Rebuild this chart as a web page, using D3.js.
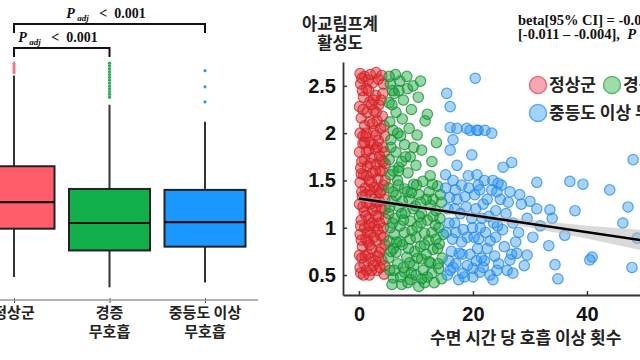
<!DOCTYPE html>
<html><head><meta charset="utf-8">
<script src="https://cdn.jsdelivr.net/npm/d3@7"></script>
<style>body{margin:0;background:#fff}svg{display:block}text{white-space:pre}</style>
</head><body><svg id="c" width="640" height="360"></svg>
<script>
// ---------- data ----------
const groups = ["정상군", "경증 무호흡", "중등도 이상 무호흡"];
const groupLabelLines = [["정상군"], ["경증", "무호흡"], ["중등도 이상", "무호흡"]];
const boxQ1 = [0.99, 0.76, 0.80];
const boxMedian = [1.27, 1.05, 1.06];
const boxQ3 = [1.65, 1.41, 1.40];
const whiskerLow = [0.48, 0.37, 0.42];
const whiskerHigh = [2.61, 2.30, 2.12];
const outliersNormal = [2.64, 2.66, 2.68, 2.70, 2.72, 2.74];
const outliersMild = [2.38, 2.41, 2.44, 2.47, 2.50, 2.53, 2.56, 2.59, 2.62, 2.65, 2.68, 2.71, 2.74];
const outliersModerate = [2.33, 2.49, 2.66];
const pAdjLabel = "<  0.001";

const yTicks = [0.5, 1, 1.5, 2, 2.5];
const yTickLabels = ["0.5", "1", "1.5", "2", "2.5"];
const xTicks = [0, 20, 40];
const xTickLabels = ["0", "20", "40"];

const normalPts = [
[0.3,0.52],[1.8,0.5],[3.2,0.55],[4.4,0.51],[0.9,0.62],[2.5,0.6],[4.0,0.66],[0.1,0.71],[1.5,0.72],[3.6,0.74],
[0.6,0.8],[2.2,0.78],[4.6,0.82],[1.2,0.88],[3.0,0.86],[0.2,0.93],[2.0,0.95],[3.8,0.92],[1.0,1.0],[4.3,1.0],[2.8,1.02],
[0.4,1.08],[1.7,1.1],[3.4,1.12],[4.7,1.09],[0.9,1.17],[2.4,1.18],[4.0,1.2],[0.1,1.25],[1.4,1.26],[3.1,1.27],[4.5,1.3],
[0.6,1.33],[2.1,1.35],[3.7,1.37],[1.1,1.42],[2.7,1.43],[4.3,1.45],[0.2,1.48],[1.8,1.5],[3.3,1.52],[0.8,1.56],[2.4,1.58],[4.1,1.6],
[0.3,1.63],[1.5,1.65],[3.0,1.67],[4.6,1.68],[1.0,1.72],[2.2,1.74],[3.6,1.76],[0.1,1.8],[1.7,1.82],[2.9,1.83],[4.2,1.85],[0.7,1.89],
[2.0,1.9],[3.4,1.92],[1.2,1.96],[4.5,1.97],[0.2,2.0],[2.6,2.02],[3.8,2.05],[1.0,2.08],[1.9,2.12],[3.2,2.13],[0.4,2.16],[4.1,2.18],
[1.4,2.22],[2.6,2.24],[0.1,2.28],[3.5,2.3],[1.9,2.33],[0.8,2.38],[2.9,2.4],[4.2,2.42],[1.3,2.47],[0.3,2.52],[2.4,2.53],[3.4,2.57],
[1.0,2.6],[0.2,2.63],[2.0,2.62],[3.0,2.64],[4.0,2.61],[1.6,2.56],
[1.3,0.55],[2.9,0.65],[0.5,0.68],[3.9,0.78],[1.6,0.85],[0.3,1.02],[2.3,1.05],[3.6,1.05],[1.2,1.13],[2.9,1.22],[0.5,1.38],
[3.2,1.4],[4.6,1.5],[1.3,1.55],[2.9,1.6],[0.5,1.7],[3.9,1.72],[2.5,1.88],[1.3,2.0],[3.0,1.98],[2.2,2.3],[3.9,2.35],[1.5,0.95],
[4.6,1.2],[0.6,2.45],[4.5,0.6],[0.2,0.58],[2.6,1.3],[1.9,1.4],[4.5,1.8],
[0.8,0.5],[2.2,0.55],[3.7,0.58],[1.1,0.7],[2.0,0.67],[3.3,0.7],[0.4,0.87],[2.6,0.9],[4.3,0.9],[1.8,1.02],[3.3,0.98],
[0.7,1.22],[2.0,1.25],[3.6,1.28],[1.2,1.35],[4.0,1.4],[2.2,1.48],[0.4,1.57],[3.7,1.6],[2.0,1.68],[4.2,1.7],[1.3,1.8],
[3.2,1.85],[0.7,1.97],[2.4,2.1],[4.4,2.08],[0.7,2.25],[3.0,2.22],[1.7,2.45],[4.3,2.52],[2.6,2.35],[0.5,2.58],[1.9,0.82],
[3.0,1.13],[1.0,1.9]
];
const mildPts = [
[7.5,0.4],[10.5,0.38],[13.2,0.42],[6.0,0.47],[9.0,0.45],[12.0,0.48],[14.5,0.46],
[5.4,0.55],[8.0,0.53],[11.3,0.55],[14.0,0.57],[6.8,0.62],[9.6,0.6],[12.6,0.63],[5.2,0.68],[8.4,0.69],[11.0,0.67],[14.6,0.68],
[6.5,0.74],[9.8,0.75],[13.0,0.77],[7.6,0.82],[10.8,0.8],[14.1,0.83],[5.3,0.86],[9.0,0.88],[12.2,0.87],
[6.2,0.93],[8.0,0.95],[11.5,0.94],[14.8,0.93],[5.5,1.0],[7.2,1.02],[10.2,1.01],[13.4,1.03],[9.0,1.07],[12.0,1.08],[6.3,1.1],[14.2,1.1],
[5.2,1.15],[8.1,1.16],[11.0,1.15],[13.5,1.18],[7.0,1.22],[9.9,1.23],[12.6,1.24],[5.8,1.28],[8.8,1.3],[14.5,1.27],
[6.5,1.34],[10.5,1.35],[12.3,1.38],[5.2,1.42],[8.0,1.41],[9.6,1.46],[13.8,1.44],[6.8,1.5],[11.2,1.49],
[5.5,1.56],[8.6,1.58],[12.5,1.55],[7.0,1.64],[10.0,1.66],[5.3,1.72],[9.0,1.75],[6.5,1.8],[11.0,1.82],[8.0,1.88],[5.6,1.93],[7.3,1.97],[10.2,1.98],
[6.0,2.03],[8.8,2.05],[5.4,2.12],[7.6,2.15],[11.6,2.13],[6.5,2.22],[9.2,2.25],[5.3,2.32],[7.8,2.35],[10.4,2.38],[6.2,2.42],[8.5,2.47],
[5.5,2.52],[7.2,2.55],[9.5,2.5],[6.4,2.62],[8.4,2.6],[10.8,2.55],
[5.8,2.3],[6.8,2.0],[5.6,1.85],[7.5,1.7],[6.0,1.6],[6.9,1.45],[5.9,2.45],[12.0,2.2],[13.6,1.9],[12.8,1.7],[11.5,0.42],[7.8,0.58],
[10.0,0.9],[13.0,1.3],[11.8,0.72],[9.5,1.2],[7.2,0.85],[14.0,1.0],[10.6,1.12],[8.5,1.38],[6.0,0.78],[12.8,0.95],[9.2,0.52],
[13.9,0.62],[5.4,1.22],[11.8,1.3],[10.1,1.45],[7.8,1.08],[5.8,0.4],[8.6,0.42],
[6.2,0.55],[10.0,0.5],[12.8,0.52],[5.6,0.75],[8.7,0.78],[11.5,0.82],[13.8,0.78],[6.6,0.85],[9.3,0.97],[10.9,1.05],[13.0,1.12],
[5.9,1.05],[7.6,1.28],[10.8,1.27],[12.9,1.46],[14.3,1.35],[6.0,1.38],[9.2,1.37],[7.3,0.48],[11.0,0.46],[12.3,0.64],[8.9,0.63],
[13.5,0.88],[7.5,1.15],[10.3,0.68],[6.9,1.6],[8.2,1.75],[9.6,1.85],[7.0,2.45],[5.3,2.6]
];
const moderatePts = [
[15.5,0.5],[17.0,0.62],[18.5,0.48],[20.0,0.57],[21.5,0.68],[23.0,0.5],[24.5,0.62],[26.0,0.55],[16.2,0.75],[18.0,0.85],
[19.5,0.72],[21.0,0.88],[22.5,0.78],[24.0,0.9],[25.5,0.8],[27.5,0.85],[15.3,0.95],[16.8,1.05],[18.3,0.98],[19.8,1.1],
[21.3,1.0],[22.8,1.12],[24.3,1.02],[25.8,1.15],[15.6,1.2],[17.2,1.3],[18.8,1.22],[20.3,1.35],[21.8,1.25],[23.3,1.4],
[24.8,1.3],[26.5,1.38],[15.2,1.42],[16.5,1.5],[18.0,1.45],[19.2,1.55],[22.0,1.5],[15.8,0.65],[17.8,1.15],[20.8,0.78],
[23.8,0.7],[16.4,0.88],[19.0,0.9],[22.2,0.95],[27.0,1.05],[28.0,0.95],[25.0,1.45],[17.5,0.45],[20.5,1.2],[26.8,0.72],
[15.9,1.32],[19.3,1.42],[21.8,0.58],[28.5,1.25],[29.5,1.1],[30.5,0.9],[29.0,0.6],
[18.2,0.52],[21.2,0.53],[24.2,0.55],[27.0,0.52],[27.7,0.73],[29.5,0.71],[26.5,0.66],[23.5,0.45],[20.0,0.48],[16.5,0.58],
[15.4,2.42],[16.0,2.28],[20.4,2.58],[16.0,2.06],[17.2,2.05],[18.9,2.05],[20.7,2.03],[19.5,2.03],[20.9,2.03],[22.1,2.03],
[23.3,2.0],[16.5,1.93],[16.0,1.82],[17.2,1.66],[19.8,1.77],[20.7,1.56],[15.2,1.56],[25.3,1.64],[26.8,1.69],[23.5,1.5],
[24.4,1.47],[24.2,1.38],[20.9,1.45],[21.2,1.40],[31.2,1.48],[37.0,1.49],[39.3,1.46],[44.0,1.40],[48.1,1.72],[31.2,1.2],
[33.5,1.19],[33.9,1.10],[37.9,1.18],[47.2,1.22],[46.3,1.05],[36.1,0.92],[33.3,0.81],[40.9,0.69],[40.5,0.66],[34.4,0.61],
[34.9,0.46],[47.9,0.58],[48.8,0.89],[28.2,1.35],[30.0,1.28],[31.8,1.02],
[16.0,0.55],[17.6,0.73],[19.0,0.6],[20.2,0.9],[21.6,1.1],[23.0,0.86],[15.8,1.05],[17.0,0.95],[18.6,1.33],[19.9,1.0],
[22.5,1.3],[24.0,1.18],[16.8,1.2],[25.2,0.98],[18.1,0.72],[22.0,0.65],[26.2,1.27],[20.6,0.65],[16.9,1.4],[23.6,1.05]
];
const fitX = [0, 50];
const fitY = [1.31, 0.865];
const ciX = [0, 10, 20, 30, 40, 50];
const ciLow = [1.28, 1.20, 1.105, 1.0, 0.885, 0.755];
const ciHigh = [1.34, 1.242, 1.16, 1.085, 1.02, 0.975];
const legendLabels = ["정상군", "경증 무호흡", "중등도 이상 무호흡"];

// ---------- drawing ----------
const svg = d3.select("#c");
const KR = "'Noto Sans CJK KR','Noto Sans',sans-serif";
const NUM = "'Liberation Sans',Arial,sans-serif";
const SERIF = "'Liberation Serif','Times New Roman',serif";

const y = d3.scaleLinear().domain([0.289, 2.752]).range([295, 62]);

// ---- left: boxplot ----
const xb = d3.scalePoint().domain(groups).range([14, 205]);
const boxFill = ["#ff5c6c", "#12b04a", "#1a98ff"];
const outl = [outliersNormal, outliersMild, outliersModerate];
const outCol = ["#f07a88", "#22b04e", "#2a9cf0"];
const bw = 81;
const L = svg.append("g");
groups.forEach((g, i) => {
  const cx = xb(g);
  L.append("line").attr("x1", cx).attr("x2", cx).attr("y1", y(whiskerHigh[i])).attr("y2", y(boxQ3[i]))
    .attr("stroke", "#333").attr("stroke-width", 2);
  L.append("line").attr("x1", cx).attr("x2", cx).attr("y1", y(boxQ1[i])).attr("y2", y(whiskerLow[i]))
    .attr("stroke", "#333").attr("stroke-width", 2);
  L.append("rect").attr("x", cx - bw / 2).attr("y", y(boxQ3[i])).attr("width", bw)
    .attr("height", y(boxQ1[i]) - y(boxQ3[i])).attr("fill", boxFill[i]).attr("stroke", "#222").attr("stroke-width", 2);
  L.append("line").attr("x1", cx - bw / 2).attr("x2", cx + bw / 2).attr("y1", y(boxMedian[i])).attr("y2", y(boxMedian[i]))
    .attr("stroke", "#111").attr("stroke-width", 2.2);
  L.selectAll(null).data(outl[i]).enter().append("circle")
    .attr("cx", cx).attr("cy", d => y(d)).attr("r", 1.6).attr("fill", outCol[i]);
});
// left x axis
const xAxL = d3.axisBottom(xb).tickSize(3).tickSizeOuter(0).tickFormat("");
const gL = L.append("g").attr("transform", "translate(0,300)").call(xAxL);
gL.select(".domain").remove();
gL.append("line").attr("x1", 0).attr("x2", 258).attr("y1", 0).attr("y2", 0).attr("stroke", "#999").attr("stroke-width", 1.5);
gL.selectAll(".tick line").attr("stroke", "#555").attr("y1", -2);
groups.forEach((g, i) => {
  groupLabelLines[i].forEach((t, j) => {
    L.append("text").attr("x", xb(g)).attr("y", 318 + j * 19).attr("text-anchor", "middle")
      .attr("font-family", KR).attr("font-weight", 700).attr("font-size", 15).attr("fill", "#222").text(t);
  });
});
// brackets
function bracket(x1, x2, yy, drop, tx, ty) {
  L.append("path").attr("d", `M${x1},${yy + drop}V${yy}H${x2}V${yy + drop}`)
    .attr("fill", "none").attr("stroke", "#111").attr("stroke-width", 2);
  const t = L.append("text").attr("x", tx).attr("y", ty).attr("text-anchor", "middle")
    .attr("font-family", SERIF).attr("font-weight", 700).attr("font-size", 14).attr("fill", "#111");
  t.append("tspan").attr("font-style", "italic").text("P");
  t.append("tspan").attr("font-style", "italic").attr("font-size", 9).attr("dy", 3).text(" adj");
  t.append("tspan").attr("dy", -3).text("   " + pAdjLabel);
}
bracket(xb(groups[0]), xb(groups[2]), 24, 9, 106, 18);
bracket(xb(groups[0]), xb(groups[1]), 48, 9, 58, 42);

// ---- right: scatter ----
const x = d3.scaleLinear().domain([-2.8, 60]).range([343, 343 + 62.8 * 5.7]);
const R = svg.append("g");
const area = d3.area().x((d, i) => x(ciX[i])).y0((d, i) => y(ciLow[i])).y1((d, i) => y(ciHigh[i]));
const sets = [
  [normalPts, "rgba(226,40,45,0.45)", "rgba(200,35,40,0.75)"],
  [mildPts, "rgba(25,165,60,0.45)", "rgba(20,140,50,0.75)"],
  [moderatePts, "rgba(45,150,240,0.42)", "rgba(35,135,235,0.75)"]
];
sets.forEach(([pts, f, s]) => {
  R.selectAll(null).data(pts).enter().append("circle")
    .attr("cx", d => x(d[0])).attr("cy", d => y(d[1])).attr("r", 5.2)
    .attr("fill", f).attr("stroke", s).attr("stroke-width", 1.2);
});
R.append("path").datum(ciX).attr("d", area).attr("fill", "rgba(185,185,185,0.55)");
R.append("path").datum(fitX).attr("d", d3.line().x((d, i) => x(fitX[i])).y((d, i) => y(fitY[i])))
  .attr("stroke", "#000").attr("stroke-width", 2.5).attr("fill", "none");

// axes
const yAx = d3.axisLeft(y).tickValues(yTicks).tickSize(-4).tickSizeOuter(0).tickPadding(7)
  .tickFormat((d, i) => yTickLabels[i]);
const gy = R.append("g").attr("transform", "translate(343,0)").call(yAx);
const xAx = d3.axisBottom(x).tickValues(xTicks).tickSize(-4).tickSizeOuter(0).tickPadding(12)
  .tickFormat((d, i) => xTickLabels[i]);
const gx = R.append("g").attr("transform", "translate(0,295)").call(xAx);
[gy, gx].forEach(g => {
  g.select(".domain").attr("stroke", "#333").attr("stroke-width", 1.8);
  g.selectAll(".tick line").attr("stroke", "#333").attr("stroke-width", 1.5);
  g.selectAll(".tick text").attr("font-family", NUM).attr("font-weight", 700).attr("font-size", 20).attr("fill", "#111");
});

// titles
[["아교림프계", 30], ["활성도", 49]].forEach(([t, yy]) => {
  R.append("text").attr("x", 340).attr("y", yy).attr("text-anchor", "middle").attr("font-family", KR)
    .attr("font-weight", 700).attr("font-size", 16.5).attr("fill", "#222").text(t);
});
R.append("text").attr("x", 430).attr("y", 344).attr("font-family", KR).attr("font-weight", 700)
  .attr("font-size", 17).attr("fill", "#222").text("수면 시간 당 호흡 이상 횟수");

// beta annotation
R.append("text").attr("x", 518).attr("y", 25).attr("font-family", SERIF).attr("font-weight", 700)
  .attr("font-size", 14.5).attr("fill", "#111").text("beta[95% CI] = -0.008");
const b2 = R.append("text").attr("x", 518).attr("y", 39).attr("font-family", SERIF).attr("font-weight", 700)
  .attr("font-size", 14.5).attr("fill", "#111");
b2.append("tspan").text("[-0.011 – -0.004],  ");
b2.append("tspan").attr("font-style", "italic").text("P");
b2.append("tspan").text(" < 0.001");

// legend
const legPos = [[538, 85], [612, 85], [538, 113]];
const legFill = ["#f6a8b0", "#9fdcaa", "#a3d3fa"];
const legStroke = ["#e3707c", "#5bbb6c", "#5aaaf0"];
legendLabels.forEach((t, i) => {
  const [lx, ly] = legPos[i];
  R.append("circle").attr("cx", lx).attr("cy", ly).attr("r", 8.5).attr("fill", legFill[i])
    .attr("stroke", legStroke[i]).attr("stroke-width", 1.5);
  R.append("text").attr("x", lx + 11).attr("y", ly + 6).attr("font-family", KR).attr("font-weight", 700)
    .attr("font-size", 17).attr("fill", "#222").text(t);
});
</script></body></html>
